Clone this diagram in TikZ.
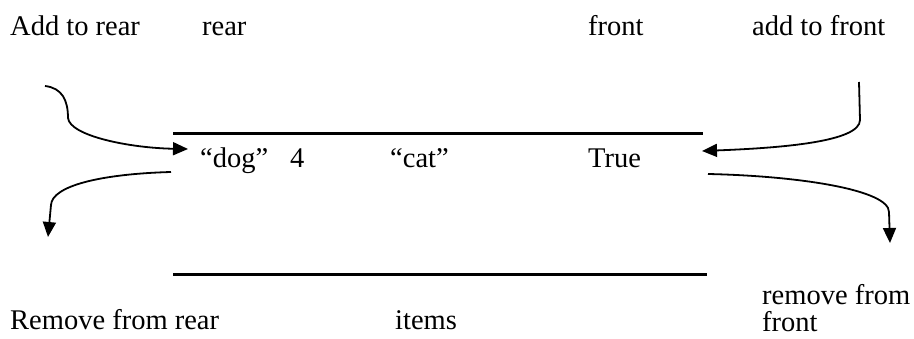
\documentclass[tikz,border=0pt]{standalone}
\usepackage{fontspec}
\setmainfont{Liberation Serif}
\usetikzlibrary{arrows.meta}

\begin{document}
\begin{tikzpicture}[
    x=1pt, y=-1pt,
    label/.style={inner sep=0pt, anchor=base west,
                  font=\fontsize{28.5}{27}\selectfont},
    wall/.style={line width=3pt},
    arrow/.style={line width=1.8pt,
                  -{Triangle[length=15pt, width=13pt]}}
]
    \useasboundingbox (0,0) rectangle (914,339);

    % Kop
    \node[label] (addrear)  at (10, 36)  {Add to rear};
    \node[label] (rear)     at (202, 36) {rear};
    \node[label] (front)    at (588, 36) {front};
    \node[label] (addfront) at (752, 36) {add to front};

    % Wachtrij
    \coordinate (topl) at (173, 134);
    \coordinate (topr) at (703, 134);
    \coordinate (botl) at (173, 275);
    \coordinate (botr) at (707, 275);
    \draw[wall] (topl) -- (topr);
    \draw[wall] (botl) -- (botr);

    % Items
    \node[label] (dog)  at (200, 168) {“dog”};
    \node[label] (four) at (290, 168) {4};
    \node[label] (cat)  at (390, 168) {“cat”};
    \node[label] (true) at (588, 168) {True};

    % Voet
    \node[label] (remrear)  at (10, 330)  {Remove from rear};
    \node[label] (items)    at (395, 330) {items};
    \node[label, align=left, anchor=north west] (remfront) at (762, 284)
        {remove from\\front};

    % Pijlen
    \coordinate (inrear)   at (188, 149);
    \coordinate (outrear)  at (171, 172);
    \coordinate (infront)  at (702, 151);
    \coordinate (outfront) at (708, 174);

    \draw[arrow] (45, 86) .. controls (62, 88) and (68, 100) .. (68, 118)
        .. controls (70, 136) and (130, 148) .. (inrear);
    \draw[arrow] (outrear) .. controls (100, 174) and (52, 186) .. (51, 205)
        -- (48, 237);
    \draw[arrow] (859, 82) -- (860, 120)
        .. controls (860, 142) and (780, 148) .. (infront);
    \draw[arrow] (outfront) .. controls (800, 176) and (889, 190) .. (889, 212)
        -- (890, 243);

\end{tikzpicture}
\end{document}
